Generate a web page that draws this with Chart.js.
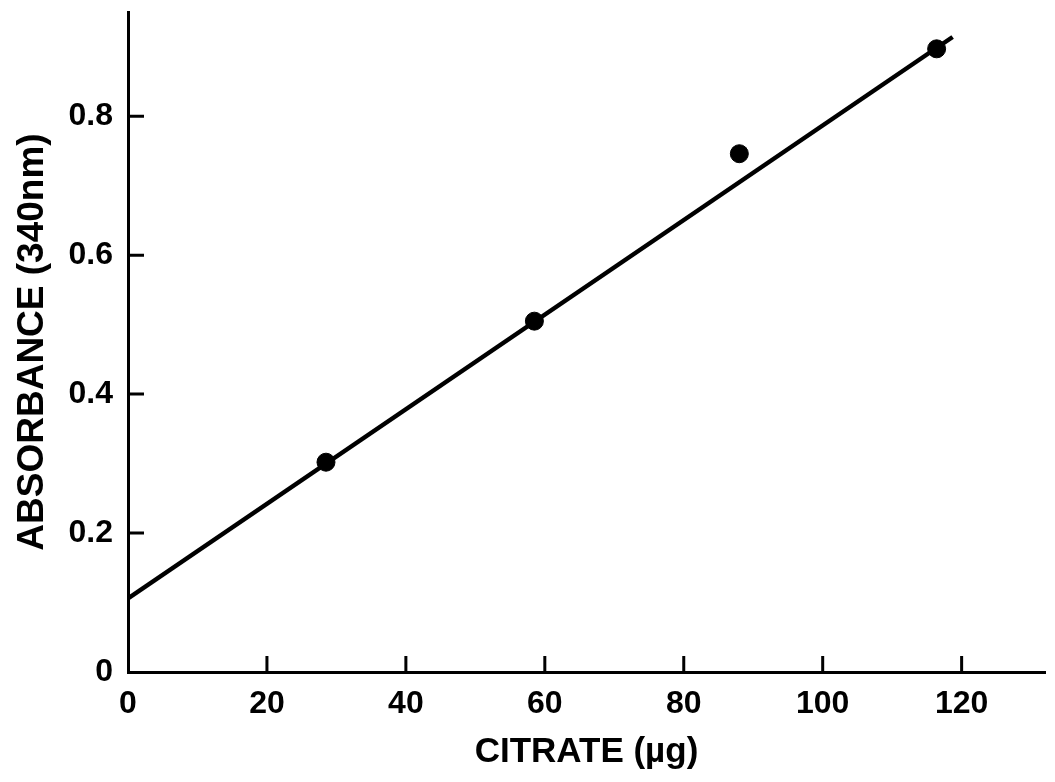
<!DOCTYPE html>
<html>
<head>
<meta charset="utf-8">
<script src="https://cdn.jsdelivr.net/npm/chart.js@4/dist/chart.umd.min.js"></script>
<style>
  html, body { margin: 0; padding: 0; background: #fff; }
  canvas { display: block; }
</style>
</head>
<body>
<canvas id="citrate" width="1055" height="782"></canvas>
<script>
// measured standards
const citrateUg = [28.5, 58.5, 88.0, 116.4];
const absorbance = [0.302, 0.505, 0.746, 0.897];

// fitted calibration line (end points)
const fitX = [0, 118.7];
const fitY = [0.106, 0.914];

const xTicks = [0, 20, 40, 60, 80, 100, 120];
const yTicks = [0, 0.2, 0.4, 0.6, 0.8];

const FONT = '"Liberation Sans", Arial, sans-serif';

// short tick marks pointing into the plot
const innerTicks = {
  id: 'innerTicks',
  afterDraw(chart) {
    const ctx = chart.ctx;
    const x = chart.scales.x, y = chart.scales.y;
    const len = 16;
    ctx.save();
    ctx.strokeStyle = '#000';
    ctx.lineWidth = 3;
    ctx.beginPath();
    xTicks.filter(v => v > 0).forEach(v => {
      const px = x.getPixelForValue(v);
      ctx.moveTo(px, y.bottom);
      ctx.lineTo(px, y.bottom - len);
    });
    yTicks.filter(v => v > 0).forEach(v => {
      const py = y.getPixelForValue(v);
      ctx.moveTo(x.left, py);
      ctx.lineTo(x.left + len, py);
    });
    ctx.stroke();
    ctx.restore();
  }
};

new Chart(document.getElementById('citrate'), {
  type: 'scatter',
  data: {
    datasets: [
      {
        data: fitX.map((v, i) => ({ x: v, y: fitY[i] })),
        showLine: true,
        borderColor: '#000',
        borderWidth: 4.5,
        pointRadius: 0,
        order: 2
      },
      {
        data: citrateUg.map((v, i) => ({ x: v, y: absorbance[i] })),
        backgroundColor: '#000',
        borderColor: '#000',
        pointRadius: 9,
        order: 1
      }
    ]
  },
  options: {
    responsive: false,
    animation: false,
    layout: { padding: { top: 12, right: 5, left: 0, bottom: 0 } },
    plugins: { legend: { display: false }, tooltip: { enabled: false } },
    scales: {
      x: {
        type: 'linear',
        min: 0,
        max: 132,
        afterFit: s => { s.height = 110; s.paddingLeft = 0; s.paddingRight = 0; },
        afterBuildTicks: s => { s.ticks = xTicks.map(v => ({ value: v })); },
        grid: { display: false, drawTicks: false },
        border: { display: true, color: '#000', width: 3 },
        ticks: {
          color: '#000',
          padding: 13,
          maxRotation: 0,
          font: { family: FONT, size: 32, weight: 'bold' }
        },
        title: {
          display: true,
          text: 'CITRATE (µg)',
          color: '#000',
          padding: { top: 0, bottom: 9 },
          font: { family: FONT, size: 35, weight: 'bold' }
        }
      },
      y: {
        min: 0,
        max: 0.95,
        afterFit: s => { s.width = 128; s.paddingTop = 0; s.paddingBottom = 0; },
        afterBuildTicks: s => { s.ticks = yTicks.map(v => ({ value: v })); },
        grid: { display: false, drawTicks: false },
        border: { display: true, color: '#000', width: 3 },
        ticks: {
          color: '#000',
          padding: 15,
          font: { family: FONT, size: 32, weight: 'bold' },
          callback: v => String(v)
        },
        title: {
          display: true,
          text: 'ABSORBANCE (340nm)',
          color: '#000',
          padding: { top: 11, bottom: 0 },
          font: { family: FONT, size: 37, weight: 'bold' }
        }
      }
    }
  },
  plugins: [innerTicks]
});
</script>
</body>
</html>
